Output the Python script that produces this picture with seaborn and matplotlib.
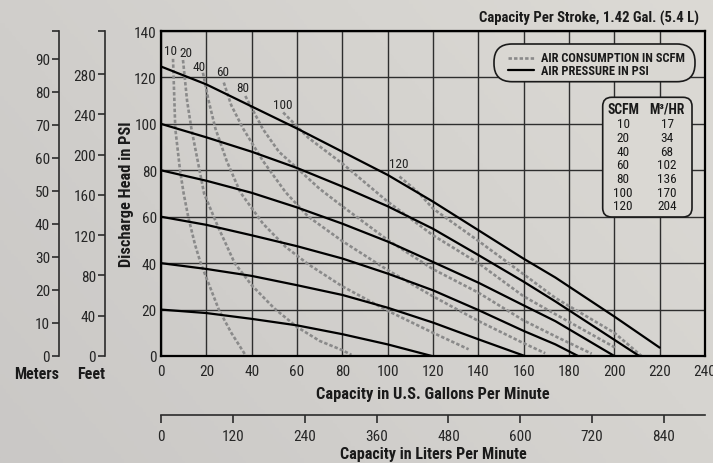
import numpy as np
import pandas as pd
import matplotlib
matplotlib.use("Agg")
import matplotlib.pyplot as plt
import seaborn as sns
from matplotlib.patches import FancyBboxPatch
from matplotlib.lines import Line2D
from matplotlib.transforms import IdentityTransform
from matplotlib.colors import LinearSegmentedColormap

# air pressure lines (solid), capacity GPM vs discharge head PSI
p20_gpm = [0, 20, 40, 60, 80, 100, 119.5]
p20_psi = [20, 18.5, 16, 13.2, 9.4, 5, 0]
p40_gpm = [0, 20, 40, 60, 80, 100, 120, 140, 160.5]
p40_psi = [40, 37.5, 34.5, 30.5, 26.3, 20.8, 14.4, 7.2, 0]
p60_gpm = [0, 20, 40, 60, 80, 100, 120, 140, 160, 174, 184]
p60_psi = [60, 56.5, 52, 47.3, 42, 35.5, 28.3, 19.8, 10.8, 5, 0]
p80_gpm = [0, 20, 40, 60, 80, 100, 120, 140, 160, 174, 200]
p80_psi = [80, 75.5, 70.3, 64, 57, 49.3, 40.5, 31.6, 21.8, 15, 0]
p100_gpm = [0, 20, 40, 60, 80, 100, 120, 140, 160, 174, 211]
p100_psi = [100, 94.2, 88, 81, 73, 64.5, 54.8, 43.5, 32, 23.5, 0]
p120_gpm = [0, 20, 40, 60, 80, 100, 120, 140, 160, 174, 200, 220]
p120_psi = [124.7, 117, 107.5, 98, 88, 78, 66.5, 54.2, 41.9, 33.8, 17, 3.6]

# air consumption curves (dashed), SCFM
a10_gpm = [5.3, 6.3, 8.4, 10, 12, 15, 17.5, 21.5, 25.5, 31, 37.5]
a10_psi = [128, 98, 80, 70, 60, 48, 40, 30, 20, 10, 0]
a20_gpm = [9.7, 11.5, 13.4, 16, 19, 25, 32.5, 40, 50, 60, 70, 80, 84]
a20_psi = [127.5, 110, 98, 85, 70, 56, 40, 30.5, 20.5, 12.5, 6.5, 2.5, 0.5]
a40_gpm = [18.5, 21, 24, 29, 35, 45, 55, 65, 80, 100, 120, 135.7]
a40_psi = [122, 110, 98, 84, 70.5, 57, 47, 39.5, 30, 19.5, 10, 2.9]
a60_gpm = [27.7, 31, 36.2, 45, 55, 65, 80, 100, 120, 140, 160, 169.5]
a60_psi = [117.8, 108, 98, 84, 70.5, 60, 49.5, 37, 25.7, 15.1, 5.5, 1.2]
a80_gpm = [37.2, 45, 52, 60.5, 70, 80, 100, 120, 140, 160, 175, 190]
a80_psi = [112, 97.7, 88, 80.5, 72, 64.5, 50, 37.4, 27.3, 15.3, 8, 1]
a100_gpm = [53.9, 65, 80.4, 100, 120, 140, 160, 174, 200.4]
a100_psi = [104.9, 94, 82.6, 66.5, 52, 40, 25.7, 18, 3.6]
a120_gpm = [105.2, 113.6, 120, 140, 160, 174, 200, 212]
a120_psi = [77.3, 70.4, 63.5, 49.6, 35.2, 25, 10, 0]

scfm_labels = ["10", "20", "40", "60", "80", "100", "120"]
label_gpm = [4.2, 11.2, 16.6, 27.4, 36.2, 53.9, 104.8]
label_psi = [131.5, 130.8, 124.6, 122.4, 115.7, 108.5, 82.9]

table_scfm = ["10", "20", "40", "60", "80", "100", "120"]
table_m3hr = ["17", "34", "68", "102", "136", "170", "204"]

gpm_ticks = np.arange(0, 241, 20)
psi_ticks = np.arange(0, 141, 20)
meter_ticks = np.arange(0, 91, 10)
feet_ticks = np.arange(0, 281, 40)
lpm_ticks = np.arange(0, 841, 120)

PSI_TO_M = 0.70307
PSI_TO_FT = 2.3067
GPM_TO_LPM = 3.78541

pressure = {"20": (p20_gpm, p20_psi), "40": (p40_gpm, p40_psi), "60": (p60_gpm, p60_psi),
            "80": (p80_gpm, p80_psi), "100": (p100_gpm, p100_psi), "120": (p120_gpm, p120_psi)}
air = {"10": (a10_gpm, a10_psi), "20": (a20_gpm, a20_psi), "40": (a40_gpm, a40_psi),
       "60": (a60_gpm, a60_psi), "80": (a80_gpm, a80_psi), "100": (a100_gpm, a100_psi),
       "120": (a120_gpm, a120_psi)}

def to_long(curves):
    rows = []
    for name, (xs, ys) in curves.items():
        rows += [{"curve": name, "gpm": x, "psi": y} for x, y in zip(xs, ys)]
    return pd.DataFrame(rows)

df_p = to_long(pressure)
df_a = to_long(air)

sns.set_theme(style="white")
plt.rcParams["font.family"] = ["Liberation Sans Narrow", "Roboto Condensed", "Liberation Sans"]
plt.rcParams["text.color"] = "#1a1a1a"

W, H = 713, 464
fig = plt.figure(figsize=(W / 100, H / 100), dpi=100)

# soft gray background gradient
bg = fig.add_axes([0, 0, 1, 1], zorder=-10)
gx, gy = np.meshgrid(np.linspace(0, 1, 200), np.linspace(0, 1, 200))
cmap = LinearSegmentedColormap.from_list("bg", ["#cac8c6", "#dcdad5"])
bg.imshow(0.65 * gx + 0.35 * (1 - gy), cmap=cmap, aspect="auto", extent=[0, 1, 0, 1])
bg.axis("off")

# main axes position in pixels: x 161..705, y 32..357
L, R, T, B = 161, 705, 32, 357
ax = fig.add_axes([L / W, 1 - B / H, (R - L) / W, (B - T) / H])
ax.set_facecolor("none")

sns.lineplot(data=df_p, x="gpm", y="psi", units="curve", estimator=None, sort=False,
             color="black", lw=1.6, ax=ax, zorder=3)
sns.lineplot(data=df_a, x="gpm", y="psi", units="curve", estimator=None, sort=False,
             color="#8a8a8a", lw=1.9, linestyle=(0, (1.3, 0.8)), ax=ax, zorder=2)

for t, x, y in zip(scfm_labels, label_gpm, label_psi):
    ax.text(x, y, t, ha="center", va="center", fontsize=9.5, color="#222222")

ax.set_xlim(0, 240)
ax.set_ylim(0, 140)
ax.set_xticks(gpm_ticks)
ax.set_yticks(psi_ticks)
ax.grid(True, color="#2e2e2e", lw=1.0)
ax.set_axisbelow(True)
ax.set_xlabel("")
ax.set_ylabel("")
for s in ax.spines.values():
    s.set_color("black")
    s.set_linewidth(1.6)
ax.tick_params(axis="x", length=0, labelsize=11, pad=6)
ax.tick_params(axis="y", length=0, labelsize=11, pad=3)

# meters and feet scales on the left
def side_axis(xpix, top, ticks):
    a = fig.add_axes([xpix / W, 1 - B / H, 0.0001, (B - T) / H])
    a.patch.set_alpha(0)
    a.set_ylim(0, top)
    a.set_yticks(ticks)
    a.set_yticks([top], minor=True)
    a.set_xticks([])
    for s in ["top", "right", "bottom"]:
        a.spines[s].set_visible(False)
    a.spines["left"].set_color("#2b2b2b")
    a.spines["left"].set_linewidth(1.2)
    a.tick_params(axis="y", which="both", direction="out", length=5, width=1.2,
                  color="#2b2b2b", labelsize=11, pad=1.5, left=True)
    return a

side_axis(59, 140 * PSI_TO_M, meter_ticks)
side_axis(105, 140 * PSI_TO_FT, feet_ticks)

# liters per minute scale at the bottom
axl = fig.add_axes([L / W, 1 - 416 / H, (R - L) / W, 0.0001])
axl.patch.set_alpha(0)
axl.set_xlim(0, 240 * GPM_TO_LPM)
axl.set_xticks(lpm_ticks)
axl.set_yticks([])
for s in ["top", "right", "left"]:
    axl.spines[s].set_visible(False)
axl.spines["bottom"].set_color("#2b2b2b")
axl.spines["bottom"].set_linewidth(1.2)
axl.tick_params(axis="x", direction="out", length=5.8, width=1.2, color="#2b2b2b",
                labelsize=11, pad=4, bottom=True)

def ftext(x, y, s, **kw):
    fig.text(x / W, 1 - y / H, s, **kw)

ftext(699, 18, "Capacity Per Stroke, 1.42 Gal. (5.4 L)", ha="right", va="center",
      fontsize=10.6, weight="bold")
ftext(126, 194, "Discharge Head in PSI", ha="center", va="center", rotation=90,
      fontsize=11.8, weight="bold")
ftext(433, 395, "Capacity in U.S. Gallons Per Minute", ha="center", va="center",
      fontsize=11.8, weight="bold")
ftext(433, 455, "Capacity in Liters Per Minute", ha="center", va="center",
      fontsize=11.6, weight="bold")
ftext(37, 375, "Meters", ha="center", va="center", fontsize=11.5, weight="bold")
ftext(91, 375, "Feet", ha="center", va="center", fontsize=11.5, weight="bold")

# legend box (stadium shape)
idt = IdentityTransform()
leg = FancyBboxPatch((494, H - 82.7), 201, 37.7, boxstyle="round,pad=0,rounding_size=18",
                     fc="#d9d7d2", ec="#1a1a1a", lw=1.2, transform=idt, zorder=5)
fig.add_artist(leg)
fig.add_artist(Line2D([508, 534], [H - 59, H - 59], color="#8a8a8a", lw=1.9,
                      linestyle=(0, (1.3, 0.8)), transform=idt, zorder=6))
fig.add_artist(Line2D([508, 534], [H - 71, H - 71], color="black", lw=1.6,
                      transform=idt, zorder=6))
ftext(541, 58.5, "AIR CONSUMPTION IN SCFM", ha="left", va="center", fontsize=8.9,
      weight="bold", zorder=7)
ftext(541, 71.5, "AIR PRESSURE IN PSI", ha="left", va="center", fontsize=8.9,
      weight="bold", zorder=7)

# SCFM to m3/hr table
tab = FancyBboxPatch((602.7, H - 218), 89.3, 119.7, boxstyle="round,pad=0,rounding_size=9",
                     fc="#dad8d3", ec="#1a1a1a", lw=1.2, transform=idt, zorder=5)
fig.add_artist(tab)
ftext(623, 110, "SCFM", ha="center", va="center", fontsize=9.8, weight="bold", zorder=7)
ftext(667, 110, "M³/HR", ha="center", va="center", fontsize=9.8, weight="bold", zorder=7)
row_y = np.linspace(125, 206.7, len(table_scfm))
for ry, s, m in zip(row_y, table_scfm, table_m3hr):
    ftext(623, ry, s, ha="center", va="center", fontsize=9.5, zorder=7)
    ftext(667, ry, m, ha="center", va="center", fontsize=9.5, zorder=7)

fig.savefig("out.png", dpi=100)
